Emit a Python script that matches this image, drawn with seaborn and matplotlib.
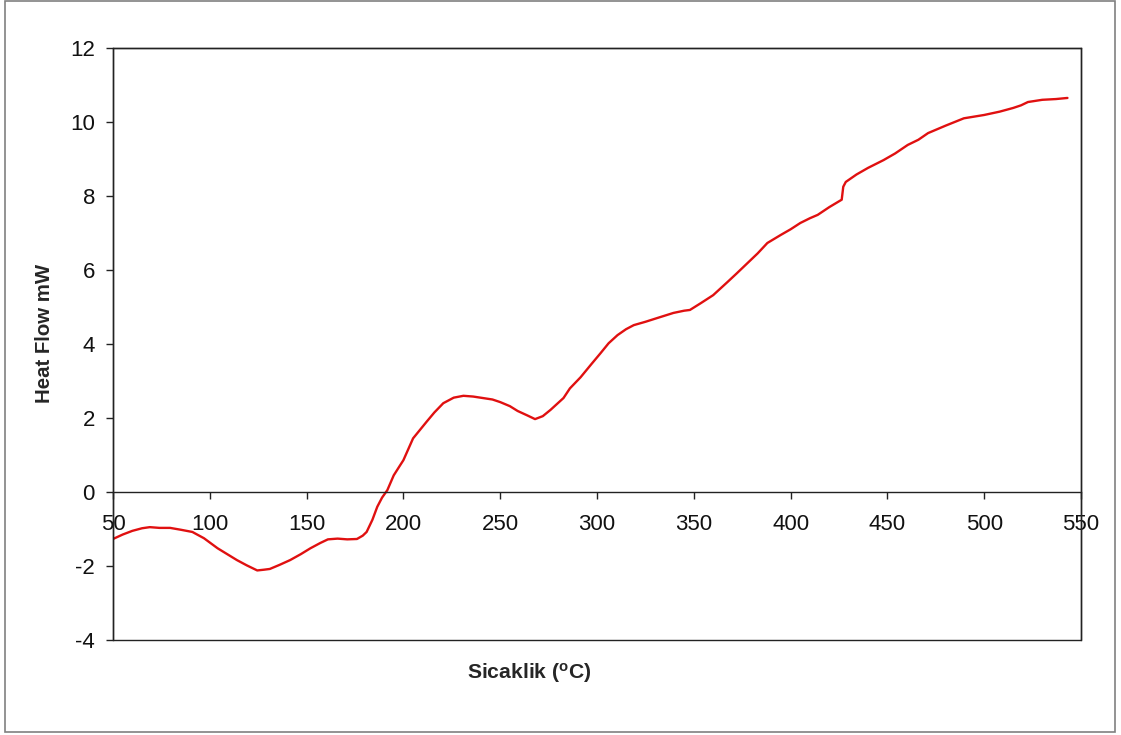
import matplotlib
matplotlib.use("Agg")
import matplotlib.pyplot as plt
from matplotlib.patches import Rectangle
import pandas as pd
import seaborn as sns

# DSC trace: temperature (°C) vs. heat flow (mW)
temperature = [
    50, 55, 60, 65, 69, 74, 79.5, 85, 91, 97, 104, 109, 114, 119, 124.5, 128,
    131, 136, 141.5, 147, 152, 157, 161, 166, 171, 176, 179, 181, 184, 186.5,
    189, 191.7, 195, 198.4, 200, 205, 212, 216, 220.6, 226, 231, 236, 241, 246,
    250, 255, 259, 264, 268, 272, 276, 282.7, 286, 291.5, 297, 301.8, 306,
    310.6, 315, 319, 325, 331, 339.5, 345, 348, 353.5, 360, 367.5, 372, 377.8,
    383, 388, 395, 400, 405, 410, 414, 420, 426.4, 427.2, 428.5, 434, 440, 448,
    454, 460.5, 466, 471, 480, 489.5, 500, 508, 515, 519, 522.6, 530, 537, 543,
]
heat_flow = [
    -1.27, -1.15, -1.05, -0.98, -0.95, -0.97, -0.97, -1.02, -1.08, -1.25,
    -1.52, -1.68, -1.84, -1.98, -2.12, -2.10, -2.08, -1.97, -1.84, -1.68,
    -1.52, -1.38, -1.28, -1.26, -1.28, -1.27, -1.18, -1.08, -0.75, -0.40,
    -0.15, 0.05, 0.45, 0.73, 0.86, 1.45, 1.90, 2.15, 2.40, 2.55, 2.60, 2.58,
    2.54, 2.50, 2.43, 2.32, 2.19, 2.07, 1.97, 2.05, 2.22, 2.54, 2.80, 3.10,
    3.45, 3.75, 4.02, 4.24, 4.40, 4.51, 4.60, 4.70, 4.84, 4.90, 4.92, 5.10,
    5.32, 5.68, 5.90, 6.19, 6.45, 6.73, 6.95, 7.10, 7.27, 7.40, 7.49, 7.70,
    7.90, 8.25, 8.38, 8.58, 8.76, 8.97, 9.15, 9.38, 9.52, 9.70, 9.90, 10.10,
    10.19, 10.28, 10.38, 10.45, 10.54, 10.60, 10.62, 10.65,
]
x_ticks = [50, 100, 150, 200, 250, 300, 350, 400, 450, 500, 550]
y_ticks = [-4, -2, 0, 2, 4, 6, 8, 10, 12]

df = pd.DataFrame({"Sicaklik": temperature, "HeatFlow": heat_flow})

sns.set_style("white")
plt.rcParams["font.family"] = ["Liberation Sans", "DejaVu Sans"]

fig = plt.figure(figsize=(11.21, 7.35), dpi=100)
ax = fig.add_axes([113 / 1121, 1 - 640 / 735, 968 / 1121, 592 / 735])

sns.lineplot(data=df, x="Sicaklik", y="HeatFlow", ax=ax, sort=False,
             estimator=None, color="#E01010", linewidth=1.7)

ax.set_xlim(50, 550)
ax.set_ylim(-4, 12)
ax.set_xticks(x_ticks)
ax.set_yticks(y_ticks)
ax.set_xticklabels([str(v) for v in x_ticks])
ax.set_yticklabels([str(v) for v in y_ticks])

# category axis crosses at zero, plot area keeps a full frame
for side in ["top", "right", "left"]:
    ax.spines[side].set_color("#222222")
    ax.spines[side].set_linewidth(1.0)
ax.spines["bottom"].set_position(("data", 0))
ax.spines["bottom"].set_color("#222222")
ax.spines["bottom"].set_linewidth(1.0)
ax.add_patch(Rectangle((0, 0), 1, 1, transform=ax.transAxes, fill=False,
                       edgecolor="#222222", linewidth=1.0, clip_on=False,
                       zorder=3))

ax.tick_params(axis="x", direction="out", length=5, width=1, pad=11,
               labelsize=16, colors="#222222", labelcolor="#111111",
               bottom=True)
ax.tick_params(axis="y", direction="out", length=5, width=1, pad=8,
               labelsize=16, colors="#222222", labelcolor="#111111",
               left=True)

ax.set_xlabel("")
ax.set_ylabel("")

fig.text(44 / 1121, 1 - 333 / 735, "Heat Flow mW", rotation=90,
         ha="center", va="center", fontsize=14.7, fontweight="bold")
fig.text(529 / 1121, 1 - 673 / 735, r"Sicaklik ($\mathregular{^{o}}$C)",
         ha="center", va="center", fontsize=15.2, fontweight="bold")

# outer chart border
fig.add_artist(Rectangle((5 / 1121, 3 / 735), 1110 / 1121, 731 / 735,
                         transform=fig.transFigure, fill=False,
                         edgecolor="#808080", linewidth=1.2))

fig.savefig("out.png", dpi=100)
